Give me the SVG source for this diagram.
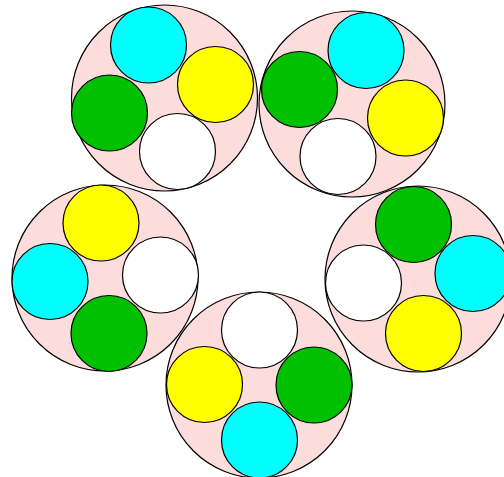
<svg xmlns="http://www.w3.org/2000/svg" width="504" height="477" viewBox="0 0 504 477">
<style>
circle{stroke:#000;stroke-width:1.2}
.big{fill:#FDDCDC}
.c{fill:#00FFFF}
.y{fill:#FFFF00}
.g{fill:#00C000}
.w{fill:#FFFFFF}
</style>
<rect width="504" height="477" fill="#fff"/>
<g id="node-top-left">
<circle class="big" cx="164.5" cy="98" r="93"/>
<circle class="c" cx="148.5" cy="45" r="38"/>
<circle class="y" cx="215.5" cy="84.5" r="38"/>
<circle class="g" cx="109.5" cy="113" r="38"/>
<circle class="w" cx="177.5" cy="151.5" r="38"/>
</g>
<g id="node-top-right">
<circle class="big" cx="352" cy="104" r="93"/>
<circle class="c" cx="366" cy="50.5" r="38"/>
<circle class="g" cx="299.5" cy="89.5" r="38"/>
<circle class="y" cx="405.5" cy="118" r="38"/>
<circle class="w" cx="338" cy="156.5" r="38"/>
</g>
<g id="node-left">
<circle class="big" cx="105" cy="278" r="93"/>
<circle class="y" cx="101" cy="223" r="38"/>
<circle class="w" cx="160.5" cy="275" r="38"/>
<circle class="c" cx="50" cy="281.5" r="38"/>
<circle class="g" cx="109" cy="333.5" r="38"/>
</g>
<g id="node-right">
<circle class="big" cx="418" cy="279" r="93"/>
<circle class="g" cx="413.5" cy="224.5" r="38"/>
<circle class="c" cx="473" cy="273.5" r="38"/>
<circle class="w" cx="363.5" cy="283" r="38"/>
<circle class="y" cx="423.5" cy="333.5" r="38"/>
</g>
<g id="node-bottom">
<circle class="big" cx="259" cy="385" r="93"/>
<circle class="w" cx="259.5" cy="330" r="38"/>
<circle class="y" cx="204.5" cy="384.5" r="38"/>
<circle class="g" cx="314" cy="385" r="38"/>
<circle class="c" cx="259.5" cy="440" r="38"/>
</g>
<g id="connectors"/>
</svg>
